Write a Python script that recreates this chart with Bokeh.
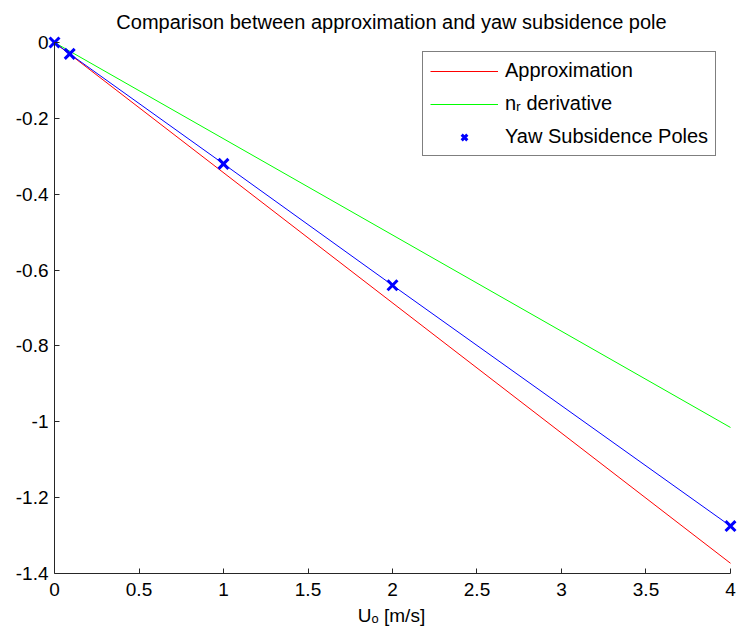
from bokeh.plotting import figure
from bokeh.embed import file_html
from bokeh.resources import INLINE
from bokeh.models import FixedTicker, Legend, LegendItem, Range1d, LinearAxis

# Data
approx_x = [0, 4]
approx_y = [0, -1.373]
nr_x = [0, 4]
nr_y = [0, -1.015]
pole_x = [0, 0.09, 1, 2, 4]
pole_y = [0, -0.03, -0.32, -0.64, -1.275]

x_ticks = [0, 0.5, 1, 1.5, 2, 2.5, 3, 3.5, 4]
x_tick_labels = ["0", "0.5", "1", "1.5", "2", "2.5", "3", "3.5", "4"]
y_ticks = [0, -0.2, -0.4, -0.6, -0.8, -1.0, -1.2, -1.4]
y_tick_labels = ["0", "-0.2", "-0.4", "-0.6", "-0.8", "-1", "-1.2", "-1.4"]

FONT = "Liberation Sans"

# pixel scales of the reference: x 0..4 spans 54.5..730, y 0..-1.4 spans 42..573
SX = 675.5 / 4.0
SY = 531.0 / 1.4
PADX = 9.0

p = figure(width=737, height=635, output_backend="svg", toolbar_location=None,
           x_axis_type=None, y_axis_type=None,
           x_range=Range1d(-PADX / SX, 4 + 7.0 / SX),
           y_range=Range1d(-1.4, 9.0 / SY),
           min_border_left=45, min_border_right=0, min_border_top=33, min_border_bottom=62,
           title="Comparison between approximation and yaw subsidence pole")
p.outline_line_color = None
p.background_fill_color = "white"
p.border_fill_color = "white"

p.title.text_font = FONT
p.title.text_font_size = "20px"
p.title.text_font_style = "normal"
p.title.align = "center"
p.title.text_color = "black"
p.title.standoff = 2

xaxis = LinearAxis(bounds=(0, 4))
# labels-only axis at the frame edge
ylabels = LinearAxis()
# line-and-ticks-only axis at x = 0
yline = LinearAxis(bounds=(-1.4, 0), fixed_location=0)

for ax in (xaxis, ylabels, yline):
    ax.major_tick_in = 5
    ax.major_tick_out = 0
    ax.minor_tick_line_color = None
    ax.axis_line_color = "#262626"
    ax.major_tick_line_color = "#262626"
    ax.major_label_text_font = FONT
    ax.major_label_text_font_size = "19px"
    ax.major_label_text_color = "black"
    ax.axis_label_text_font = FONT
    ax.axis_label_text_font_size = "19px"
    ax.axis_label_text_font_style = "normal"
    ax.axis_label_text_color = "black"

xaxis.ticker = FixedTicker(ticks=x_ticks)
xaxis.major_label_overrides = dict(zip(x_ticks, x_tick_labels))
xaxis.major_label_standoff = 9
xaxis.axis_label = "Uₒ [m/s]"
xaxis.axis_label_standoff = 6

ylabels.ticker = FixedTicker(ticks=y_ticks)
ylabels.major_label_overrides = dict(zip(y_ticks, y_tick_labels))
ylabels.major_label_standoff = int(6 - PADX)
ylabels.axis_line_color = None
ylabels.major_tick_line_color = None

yline.ticker = FixedTicker(ticks=y_ticks)
yline.major_label_text_font_size = "1px"
yline.major_label_text_color = None
yline.major_label_standoff = 0

p.add_layout(xaxis, "below")
p.add_layout(ylabels, "left")
p.add_layout(yline, "left")

r1 = p.line(approx_x, approx_y, line_color="#ff0000", line_width=1)
r2 = p.line(nr_x, nr_y, line_color="#00ff00", line_width=1)
r3 = p.line(pole_x, pole_y, line_color="#0000ff", line_width=1)
r4 = p.scatter(pole_x, pole_y, marker="x", size=14, line_color="#0000ff", line_width=3)

legend = Legend(items=[
    LegendItem(label="Approximation", renderers=[r1]),
    LegendItem(label="nᵣ derivative", renderers=[r2]),
    LegendItem(label="Yaw Subsidence Poles", renderers=[r4]),
], location=(377, 417))
legend.border_line_color = "black"
legend.border_line_width = 1
legend.background_fill_color = "white"
legend.background_fill_alpha = 1
legend.label_text_font = FONT
legend.label_text_font_size = "20px"
legend.label_text_color = "black"
legend.glyph_width = 68
legend.glyph_height = 20
legend.label_height = 20
legend.label_standoff = 7
legend.padding = 7
legend.spacing = 10
legend.margin = 0
p.add_layout(legend, "center")

open("out.html", "w").write(file_html(p, INLINE))
